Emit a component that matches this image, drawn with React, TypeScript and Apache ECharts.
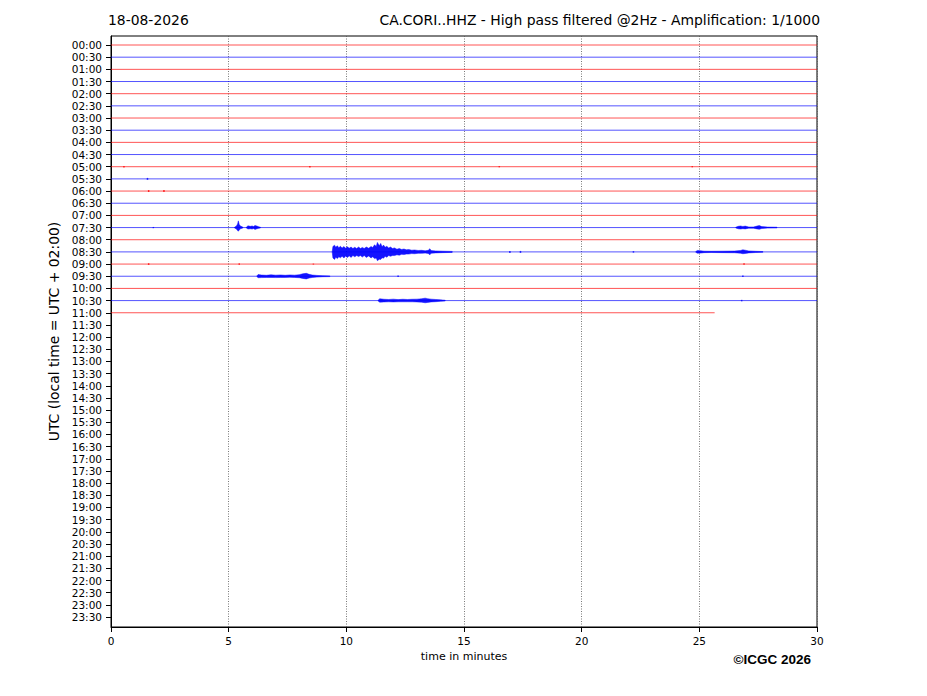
import { useEffect, useRef } from "react";
import * as echarts from "echarts";

// Row labels (UTC), one row per 30 minutes
const ROW_LABELS = [
  "00:00", "00:30", "01:00", "01:30", "02:00", "02:30", "03:00", "03:30",
  "04:00", "04:30", "05:00", "05:30", "06:00", "06:30", "07:00", "07:30",
  "08:00", "08:30", "09:00", "09:30", "10:00", "10:30", "11:00", "11:30",
  "12:00", "12:30", "13:00", "13:30", "14:00", "14:30", "15:00", "15:30",
  "16:00", "16:30", "17:00", "17:30", "18:00", "18:30", "19:00", "19:30",
  "20:00", "20:30", "21:00", "21:30", "22:00", "22:30", "23:00", "23:30",
];

// end time (minutes) of each recorded trace row
const TRACE_ENDS = [
  30, 30, 30, 30, 30, 30, 30, 30, 30, 30, 30, 30,
  30, 30, 30, 30, 30, 30, 30, 30, 30, 30, 25.65,
];

const X_TICKS = [0, 5, 10, 15, 20, 25, 30];

// envelopes: [minute, amplitude up, amplitude down] in row units
const ev0730a = [
  [5.25, 0.03, 0.03], [5.33, 0.12, 0.12], [5.38, 0.3, 0.25], [5.41, 0.55, 0.3],
  [5.45, 0.25, 0.2], [5.5, 0.12, 0.1], [5.6, 0.04, 0.04],
];
const ev0730b = [
  [5.75, 0.03, 0.03], [5.82, 0.14, 0.12], [5.92, 0.1, 0.1], [6.0, 0.13, 0.12],
  [6.05, 0.08, 0.08], [6.12, 0.17, 0.15], [6.2, 0.12, 0.1], [6.28, 0.06, 0.06],
  [6.35, 0.03, 0.03],
];
const ev0730c = [
  [26.55, 0.03, 0.03], [26.65, 0.1, 0.1], [26.75, 0.13, 0.12], [26.85, 0.09, 0.09],
  [26.95, 0.12, 0.11], [27.1, 0.05, 0.05], [27.3, 0.05, 0.05], [27.45, 0.12, 0.11],
  [27.55, 0.16, 0.14], [27.65, 0.08, 0.08], [27.9, 0.04, 0.04], [28.3, 0.03, 0.03],
];
const ev0830a = [
  [9.4, 0.03, 0.03], [9.43, 0.45, 0.5], [9.5, 0.55, 0.62], [9.55, 0.38, 0.44],
  [9.62, 0.5, 0.55], [9.68, 0.34, 0.4], [9.75, 0.46, 0.48], [9.82, 0.32, 0.36],
  [9.9, 0.44, 0.5], [9.97, 0.3, 0.34], [10.05, 0.42, 0.46], [10.12, 0.3, 0.32],
  [10.2, 0.4, 0.45], [10.28, 0.28, 0.3], [10.36, 0.38, 0.4], [10.44, 0.27, 0.3],
  [10.52, 0.4, 0.38], [10.6, 0.28, 0.3], [10.68, 0.37, 0.42], [10.76, 0.28, 0.3],
  [10.85, 0.4, 0.45], [10.95, 0.3, 0.33], [11.05, 0.45, 0.5], [11.12, 0.36, 0.4],
  [11.2, 0.58, 0.55], [11.27, 0.45, 0.5], [11.32, 0.78, 0.72], [11.4, 0.5, 0.6],
  [11.46, 0.7, 0.62], [11.52, 0.42, 0.48], [11.58, 0.56, 0.52], [11.65, 0.38, 0.36],
  [11.72, 0.46, 0.44], [11.8, 0.32, 0.3], [11.88, 0.4, 0.36], [11.96, 0.28, 0.3],
  [12.05, 0.33, 0.3], [12.15, 0.22, 0.24], [12.25, 0.28, 0.27], [12.35, 0.2, 0.2],
  [12.45, 0.24, 0.22], [12.55, 0.17, 0.18], [12.65, 0.2, 0.18], [12.78, 0.14, 0.14],
  [12.9, 0.16, 0.15], [13.05, 0.12, 0.12], [13.2, 0.13, 0.12], [13.35, 0.09, 0.1],
  [13.48, 0.13, 0.13], [13.55, 0.26, 0.24], [13.6, 0.11, 0.11], [13.8, 0.08, 0.08],
  [14.1, 0.06, 0.06], [14.5, 0.04, 0.04],
];
const ev0830b = [
  [24.85, 0.03, 0.03], [24.92, 0.12, 0.11], [25.05, 0.1, 0.1], [25.2, 0.06, 0.06],
  [25.5, 0.05, 0.05], [26.0, 0.06, 0.06], [26.5, 0.07, 0.07], [26.75, 0.12, 0.11],
  [26.85, 0.17, 0.15], [26.95, 0.14, 0.13], [27.1, 0.08, 0.08], [27.4, 0.05, 0.05],
  [27.7, 0.03, 0.03],
];
const ev0930 = [
  [6.2, 0.03, 0.03], [6.25, 0.14, 0.12], [6.4, 0.1, 0.11], [6.6, 0.08, 0.1],
  [6.8, 0.12, 0.1], [7.0, 0.09, 0.11], [7.2, 0.11, 0.1], [7.4, 0.08, 0.1],
  [7.6, 0.11, 0.09], [7.8, 0.09, 0.1], [8.0, 0.13, 0.12], [8.15, 0.2, 0.18],
  [8.3, 0.24, 0.22], [8.42, 0.16, 0.15], [8.55, 0.1, 0.1], [8.75, 0.07, 0.07],
  [9.0, 0.04, 0.04], [9.3, 0.03, 0.03],
];
const ev1030 = [
  [11.35, 0.03, 0.03], [11.42, 0.15, 0.13], [11.6, 0.11, 0.11], [11.8, 0.09, 0.1],
  [12.0, 0.12, 0.11], [12.2, 0.08, 0.1], [12.4, 0.11, 0.1], [12.6, 0.09, 0.1],
  [12.8, 0.11, 0.1], [13.0, 0.12, 0.11], [13.2, 0.15, 0.13], [13.35, 0.2, 0.18],
  [13.45, 0.16, 0.15], [13.6, 0.12, 0.11], [13.8, 0.09, 0.09], [14.0, 0.06, 0.06],
  [14.2, 0.03, 0.03],
];

const EVENT_ROWS = [15, 15, 15, 17, 17, 19, 21];
const EVENT_SHAPES = [ev0730a, ev0730b, ev0730c, ev0830a, ev0830b, ev0930, ev1030];

// small isolated spikes: [minute, row, amplitude]
const BLIPS = [
  [0.55, 10, 0.06], [8.45, 10, 0.06], [16.5, 10, 0.05], [24.7, 10, 0.05],
  [1.55, 11, 0.08], [1.6, 12, 0.08], [2.25, 12, 0.08], [1.8, 15, 0.05],
  [16.95, 17, 0.08], [17.4, 17, 0.08], [22.2, 17, 0.06],
  [1.6, 18, 0.07], [5.45, 18, 0.06], [8.6, 18, 0.04], [26.9, 18, 0.06],
  [12.2, 19, 0.06], [26.85, 19, 0.06], [26.8, 21, 0.06],
];

const RED = "#ff0000";
const BLUE = "#0000ff";
const rowColor = (r: number) => (r % 2 === 0 ? RED : BLUE);
const FONT = '"DejaVu Sans", sans-serif';

export default function App() {
  const chartRef = useRef<HTMLDivElement>(null);

  useEffect(() => {
    if (!chartRef.current) return;
    const chart = echarts.init(chartRef.current, null, { renderer: "svg" });

    const rowValues = ROW_LABELS.map((_, i) => i);

    const traceSeries = TRACE_ENDS.map((end, row) => ({
      type: "line",
      data: [
        [0, row],
        [end, row],
      ],
      symbol: "none",
      silent: true,
      lineStyle: { color: rowColor(row), width: 0.9, opacity: 0.75 },
      z: 2,
    }));

    chart.setOption({
      animation: false,
      backgroundColor: "#fff",
      textStyle: { fontFamily: FONT },
      grid: {
        left: 111,
        right: 110,
        top: 36,
        bottom: 69,
        show: true,
        borderColor: "#000",
        borderWidth: 1,
        backgroundColor: "transparent",
      },
      xAxis: {
        type: "value",
        min: 0,
        max: 30,
        interval: 5,
        name: "time in minutes",
        nameLocation: "middle",
        nameGap: 24,
        nameTextStyle: { color: "#000", fontSize: 11, fontFamily: FONT },
        axisLine: { show: true, onZero: false, lineStyle: { color: "#000", width: 1 } },
        axisTick: { show: true, inside: false, length: 5, lineStyle: { color: "#000" } },
        axisLabel: {
          color: "#000",
          fontSize: 10.5,
          fontFamily: FONT,
          margin: 8,
          formatter: (v: number) => (X_TICKS.includes(v) ? String(v) : ""),
        },
        splitLine: {
          show: true,
          lineStyle: { color: "#555", width: 0.8, type: [1, 1.5] },
        },
      },
      yAxis: {
        type: "value",
        inverse: true,
        min: -0.74,
        max: 47.82,
        name: "UTC (local time = UTC + 02:00)",
        nameLocation: "middle",
        nameGap: 47,
        nameTextStyle: { color: "#000", fontSize: 13.9, fontFamily: FONT },
        axisLine: { show: true, onZero: false, lineStyle: { color: "#000", width: 1 } },
        axisTick: {
          show: true,
          inside: false,
          length: 5,
          customValues: rowValues,
          lineStyle: { color: "#000" },
        },
        axisLabel: {
          color: "#000",
          fontSize: 10.5,
          fontFamily: FONT,
          margin: 9,
          customValues: rowValues,
          formatter: (v: number) => ROW_LABELS[Math.round(v)] ?? "",
        },
        splitLine: { show: false },
      },
      graphic: [
        {
          type: "text",
          x: 108,
          y: 20,
          style: {
            text: "18-08-2026",
            fill: "#000",
            font: `13.9px ${FONT}`,
            textAlign: "left",
            textVerticalAlign: "middle",
          },
        },
        {
          type: "text",
          x: 820,
          y: 20,
          style: {
            text: "CA.CORI..HHZ - High pass filtered @2Hz - Amplification: 1/1000",
            fill: "#000",
            font: `13.9px ${FONT}`,
            textAlign: "right",
            textVerticalAlign: "middle",
          },
        },
        {
          type: "text",
          x: 811,
          y: 659,
          style: {
            text: "\u00a9ICGC 2026",
            fill: "#000",
            font: `bold 13.5px "Liberation Sans", Arial, sans-serif`,
            textAlign: "right",
            textVerticalAlign: "middle",
          },
        },
      ],
      series: [
        ...traceSeries,
        {
          type: "custom",
          silent: true,
          z: 3,
          data: EVENT_SHAPES.map((pts, i) => [pts[0][0], EVENT_ROWS[i]]),
          renderItem: (params: any, api: any) => {
            const i = params.dataIndex;
            const row = EVENT_ROWS[i];
            const pts = EVENT_SHAPES[i];
            const upper = pts.map((p) => api.coord([p[0], row - p[1]]));
            const lower = pts
              .slice()
              .reverse()
              .map((p) => api.coord([p[0], row + p[2]]));
            const c = rowColor(row);
            return {
              type: "polygon",
              shape: { points: [...upper, ...lower] },
              style: { fill: c, stroke: c, lineWidth: 0.5, opacity: 0.92 },
            };
          },
        },
        {
          type: "custom",
          silent: true,
          z: 3,
          data: BLIPS,
          renderItem: (params: any, api: any) => {
            const t = api.value(0);
            const row = api.value(1);
            const amp = api.value(2);
            const p1 = api.coord([t, row - amp]);
            const p2 = api.coord([t, row + amp]);
            return {
              type: "line",
              shape: { x1: p1[0], y1: p1[1], x2: p2[0], y2: p2[1] },
              style: { stroke: rowColor(row), lineWidth: 1.5, opacity: 0.8 },
            };
          },
        },
      ],
    });

    return () => {
      chart.dispose();
    };
  }, []);

  return (
    <div
      ref={chartRef}
      style={{ position: "absolute", left: 0, top: 0, width: 927, height: 696 }}
    ></div>
  );
}
